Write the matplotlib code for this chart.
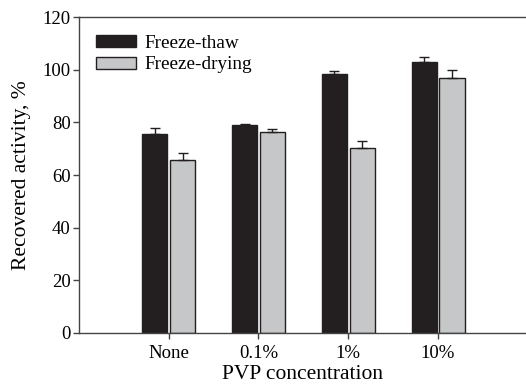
import numpy as np
import matplotlib
matplotlib.rc('font', family='Liberation Serif', size=13.5)
import matplotlib.pyplot as plt

categories = ['None', '0.1%', '1%', '10%']
thaw       = [75.7, 78.9, 98.3, 102.9]
thaw_err   = [2.3, 0.7, 1.4, 2.1]
drying     = [65.7, 76.5, 70.2, 97.1]
drying_err = [2.6, 1.2, 2.6, 2.7]

if __name__ == '__main__':
    x = np.arange(len(categories))
    w = 0.28
    fig, ax = plt.subplots(figsize=(5.26, 3.86), dpi=100)
    fig.subplots_adjust(left=0.150, right=1.0, bottom=0.138, top=0.955)
    ebar = dict(ecolor='#231f20', elinewidth=1.0, capsize=3.5, capthick=1.0)
    ax.bar(x - w/2 - 0.015, thaw, w, color='#231f20', edgecolor='#231f20',
           linewidth=1.0, yerr=[np.zeros(4), thaw_err], error_kw=ebar,
           label='Freeze-thaw')
    ax.bar(x + w/2 + 0.015, drying, w, color='#c6c7c8', edgecolor='#231f20',
           linewidth=1.0, yerr=[np.zeros(4), drying_err], error_kw=ebar,
           label='Freeze-drying')
    ax.set(
        xlim=(-1.0, 3.98),
        ylim=(0, 120),
        xticks=x,
        xticklabels=categories,
        yticks=np.arange(0, 121, 20),
    )
    ax.set_xlabel('PVP concentration', fontsize=15.5, labelpad=2)
    ax.set_ylabel('Recovered activity, %', fontsize=15.5, labelpad=8)
    ax.spines['right'].set_visible(False)
    for s in ['left', 'bottom', 'top']:
        ax.spines[s].set_color('#444444')
        ax.spines[s].set_linewidth(1.0)
    ax.tick_params(direction='out', length=4, width=1.0, color='#444444')
    ax.tick_params(axis='x', pad=5)
    ax.tick_params(axis='y', pad=2)
    ax.legend(loc='upper left', frameon=False, handlelength=2.1, handleheight=0.6,
              handletextpad=0.4, labelspacing=0.25, borderaxespad=0.5,
              borderpad=0.4, fontsize=13.8)
    fig.savefig('out.png', dpi=100)
    plt.close(fig)
